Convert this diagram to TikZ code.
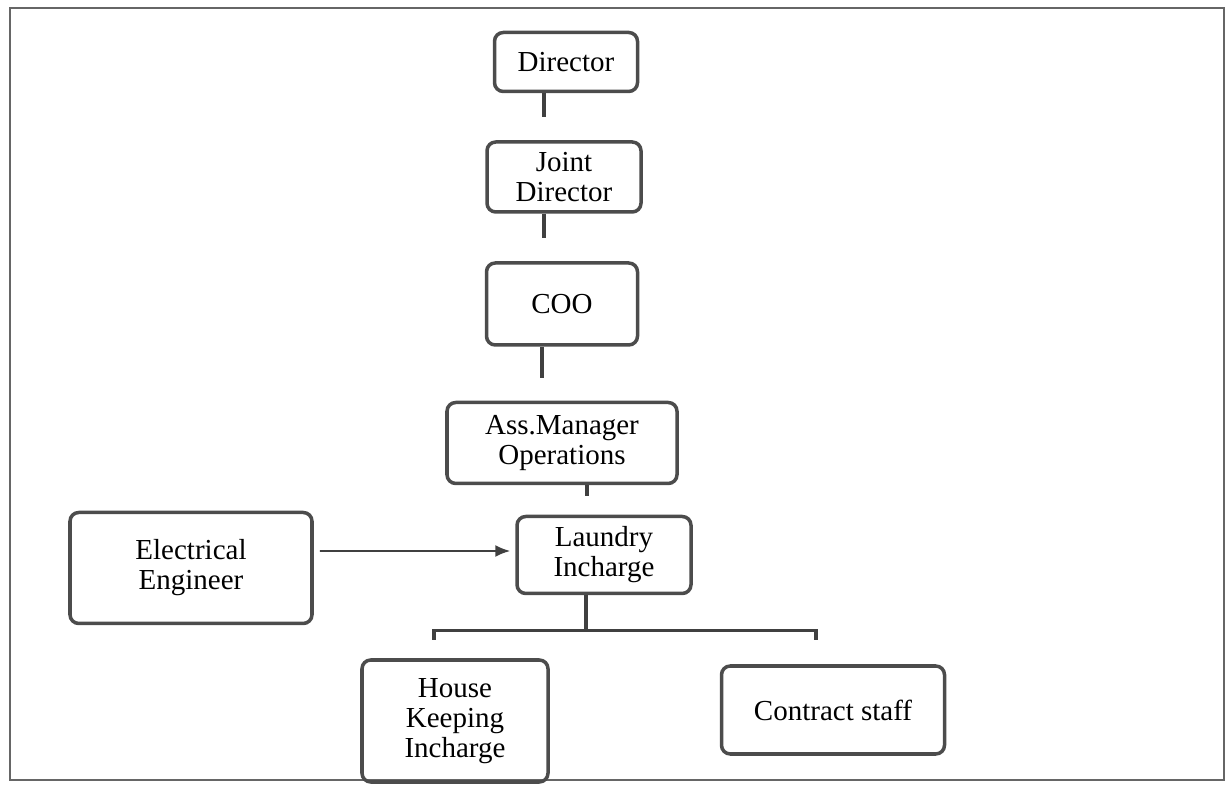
\documentclass[tikz,border=0pt]{standalone}
\usepackage{fontspec}
\setmainfont{Liberation Serif}
\usetikzlibrary{arrows.meta,positioning}

\begin{document}
\begin{tikzpicture}[
  >={Latex[length=3mm,width=2.4mm]},
  post/.style  = {draw=black!70, line width=2pt, rounded corners=5pt, align=center,
                  font=\fontsize{16.5}{17}\selectfont, inner sep=2pt},
  stub/.style  = {draw=black!75, line width=1.8pt},
  line/.style  = {->, draw=black!75, line width=1.1pt, shorten <=1.2mm, shorten >=1mm},
  frame/.style = {draw=black!60, line width=0.8pt}
]
\useasboundingbox (0,0) rectangle (24.54,15.8);
\draw[frame] (0.2,0.2) rectangle (24.48,15.64);

% Nodes
\node[post, minimum width=2.86cm, minimum height=1.18cm] (dir)     at (11.32,14.56) {Director};
\node[post, minimum width=3.08cm, minimum height=1.40cm] (jdir)    at (11.28,12.26) {Joint\\Director};
\node[post, minimum width=3.02cm, minimum height=1.64cm] (coo)     at (11.24,9.72)  {COO};
\node[post, minimum width=4.60cm, minimum height=1.62cm] (asm)     at (11.24,6.94)  {Ass.Manager\\Operations};
\node[post, minimum width=3.48cm, minimum height=1.54cm] (laundry) at (12.08,4.70)  {Laundry\\Incharge};
\node[post, minimum width=4.84cm, minimum height=2.22cm] (elec)    at (3.82,4.44)   {Electrical\\Engineer};
\node[post, minimum width=3.72cm, minimum height=2.44cm] (hk)      at (9.10,1.38)   {House\\Keeping\\Incharge};
\node[post, minimum width=4.46cm, minimum height=1.76cm] (staff)   at (16.66,1.60)  {Contract staff};

% Chain of command
\draw[stub, shorten >=4.6mm] ([xshift=-4.4mm]dir.south)  -- ([xshift=-4.4mm]dir.south |- jdir.north);
\draw[stub, shorten >=4.6mm] ([xshift=-4mm]jdir.south)   -- ([xshift=-4mm]jdir.south |- coo.north);
\draw[stub, shorten >=4.6mm] ([xshift=-4mm]coo.south)    -- ([xshift=-4mm]coo.south |- asm.north);
\draw[stub, shorten >=3.8mm] ([xshift=5mm]asm.south)     -- ([xshift=5mm]asm.south |- laundry.north);

% Electrical support
\draw[line] ([yshift=3.4mm]elec.east) -- ([yshift=0.8mm]laundry.west);

% Staff under laundry
\draw[stub] ([xshift=-3.6mm]laundry.south) -- ++(0,-0.7) coordinate (bus);
\draw[stub, shorten >=3.6mm] (bus) -| ([xshift=-4.2mm]hk.north);
\draw[stub, shorten >=4.8mm] (bus) -| ([xshift=-3.4mm]staff.north);

\end{tikzpicture}
\end{document}
